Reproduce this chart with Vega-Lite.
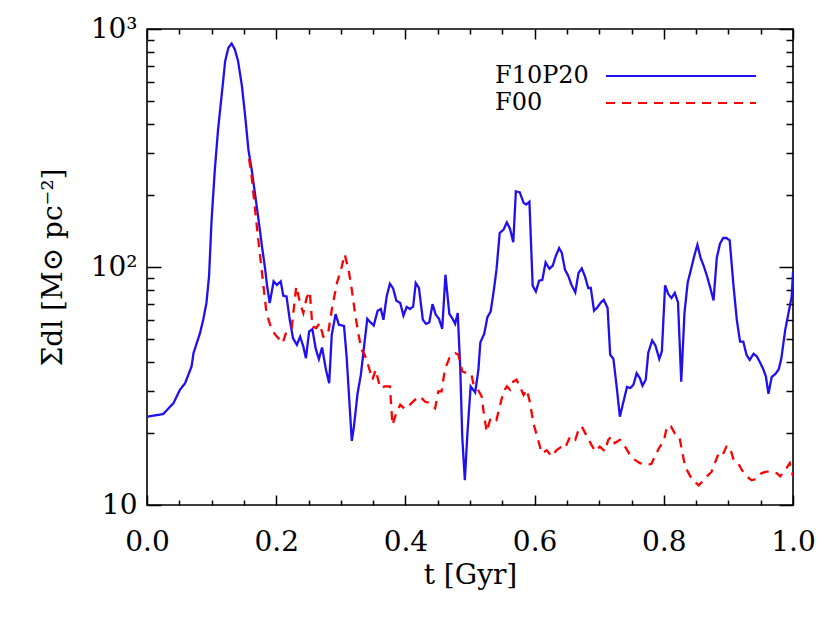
{
  "$schema": "https://vega.github.io/schema/vega-lite/v6.json",
  "width": 646,
  "height": 476,
  "autosize": {"type": "none"},
  "padding": {"left": 147, "top": 29, "right": 37, "bottom": 119},
  "background": "white",
  "config": {
    "view": {"stroke": "#000", "strokeWidth": 1.6},
    "axis": {"domain": false, "grid": false, "labelColor": "#000", "titleColor": "#000", "tickColor": "#000", "tickWidth": 1.5, "labelFont": "DejaVu Serif", "titleFont": "DejaVu Serif", "labelFontSize": 28, "titleFontSize": 28, "titleFontWeight": "normal"}
  },
  "datasets": {
    "series": [
      {"t":0,"v":23.5,"s":"F10P20"},{"t":0.025,"v":24.1,"s":"F10P20"},{"t":0.041,"v":26.8,"s":"F10P20"},{"t":0.051,"v":30.5,"s":"F10P20"},{"t":0.059,"v":32.5,"s":"F10P20"},{"t":0.069,"v":38.2,"s":"F10P20"},{"t":0.072,"v":43.5,"s":"F10P20"},{"t":0.082,"v":52.7,"s":"F10P20"},{"t":0.087,"v":60,"s":"F10P20"},{"t":0.092,"v":70.6,"s":"F10P20"},{"t":0.096,"v":91,"s":"F10P20"},{"t":0.1,"v":158,"s":"F10P20"},{"t":0.105,"v":256,"s":"F10P20"},{"t":0.11,"v":378,"s":"F10P20"},{"t":0.116,"v":540,"s":"F10P20"},{"t":0.121,"v":733,"s":"F10P20"},{"t":0.126,"v":834,"s":"F10P20"},{"t":0.131,"v":869,"s":"F10P20"},{"t":0.136,"v":820,"s":"F10P20"},{"t":0.141,"v":733,"s":"F10P20"},{"t":0.147,"v":575,"s":"F10P20"},{"t":0.152,"v":430,"s":"F10P20"},{"t":0.157,"v":311,"s":"F10P20"},{"t":0.162,"v":257,"s":"F10P20"},{"t":0.167,"v":205,"s":"F10P20"},{"t":0.172,"v":163,"s":"F10P20"},{"t":0.178,"v":122,"s":"F10P20"},{"t":0.183,"v":97.5,"s":"F10P20"},{"t":0.186,"v":82.8,"s":"F10P20"},{"t":0.19,"v":70.6,"s":"F10P20"},{"t":0.196,"v":87,"s":"F10P20"},{"t":0.201,"v":84,"s":"F10P20"},{"t":0.207,"v":87,"s":"F10P20"},{"t":0.211,"v":75.7,"s":"F10P20"},{"t":0.216,"v":75.2,"s":"F10P20"},{"t":0.221,"v":60,"s":"F10P20"},{"t":0.226,"v":50.2,"s":"F10P20"},{"t":0.232,"v":47.1,"s":"F10P20"},{"t":0.237,"v":51,"s":"F10P20"},{"t":0.242,"v":46.3,"s":"F10P20"},{"t":0.246,"v":41.4,"s":"F10P20"},{"t":0.251,"v":53.6,"s":"F10P20"},{"t":0.256,"v":54.8,"s":"F10P20"},{"t":0.261,"v":45.6,"s":"F10P20"},{"t":0.266,"v":41,"s":"F10P20"},{"t":0.271,"v":45.9,"s":"F10P20"},{"t":0.277,"v":37,"s":"F10P20"},{"t":0.282,"v":32.5,"s":"F10P20"},{"t":0.286,"v":51.9,"s":"F10P20"},{"t":0.292,"v":63.4,"s":"F10P20"},{"t":0.297,"v":57.2,"s":"F10P20"},{"t":0.305,"v":56.5,"s":"F10P20"},{"t":0.309,"v":42,"s":"F10P20"},{"t":0.317,"v":18.6,"s":"F10P20"},{"t":0.32,"v":21,"s":"F10P20"},{"t":0.326,"v":29.5,"s":"F10P20"},{"t":0.331,"v":35.2,"s":"F10P20"},{"t":0.336,"v":46.3,"s":"F10P20"},{"t":0.341,"v":60.6,"s":"F10P20"},{"t":0.346,"v":58.5,"s":"F10P20"},{"t":0.351,"v":56.8,"s":"F10P20"},{"t":0.357,"v":65.5,"s":"F10P20"},{"t":0.362,"v":66.6,"s":"F10P20"},{"t":0.366,"v":60,"s":"F10P20"},{"t":0.371,"v":75.2,"s":"F10P20"},{"t":0.376,"v":85.1,"s":"F10P20"},{"t":0.381,"v":81.3,"s":"F10P20"},{"t":0.386,"v":72.1,"s":"F10P20"},{"t":0.392,"v":70.6,"s":"F10P20"},{"t":0.397,"v":62.5,"s":"F10P20"},{"t":0.402,"v":67.9,"s":"F10P20"},{"t":0.407,"v":66.6,"s":"F10P20"},{"t":0.412,"v":68.2,"s":"F10P20"},{"t":0.416,"v":85.7,"s":"F10P20"},{"t":0.421,"v":81.6,"s":"F10P20"},{"t":0.427,"v":60,"s":"F10P20"},{"t":0.432,"v":57.7,"s":"F10P20"},{"t":0.437,"v":58.5,"s":"F10P20"},{"t":0.442,"v":69.8,"s":"F10P20"},{"t":0.447,"v":63,"s":"F10P20"},{"t":0.452,"v":60.6,"s":"F10P20"},{"t":0.457,"v":55,"s":"F10P20"},{"t":0.462,"v":92.8,"s":"F10P20"},{"t":0.468,"v":63.6,"s":"F10P20"},{"t":0.473,"v":60.6,"s":"F10P20"},{"t":0.477,"v":57.7,"s":"F10P20"},{"t":0.481,"v":64,"s":"F10P20"},{"t":0.485,"v":37,"s":"F10P20"},{"t":0.488,"v":19.4,"s":"F10P20"},{"t":0.492,"v":12.7,"s":"F10P20"},{"t":0.496,"v":20,"s":"F10P20"},{"t":0.501,"v":31.5,"s":"F10P20"},{"t":0.508,"v":29.7,"s":"F10P20"},{"t":0.513,"v":37,"s":"F10P20"},{"t":0.516,"v":48.2,"s":"F10P20"},{"t":0.522,"v":52.4,"s":"F10P20"},{"t":0.527,"v":61.6,"s":"F10P20"},{"t":0.532,"v":65,"s":"F10P20"},{"t":0.537,"v":80.3,"s":"F10P20"},{"t":0.541,"v":97.5,"s":"F10P20"},{"t":0.546,"v":139,"s":"F10P20"},{"t":0.552,"v":143.6,"s":"F10P20"},{"t":0.557,"v":154,"s":"F10P20"},{"t":0.562,"v":144.5,"s":"F10P20"},{"t":0.567,"v":127,"s":"F10P20"},{"t":0.571,"v":208,"s":"F10P20"},{"t":0.577,"v":206,"s":"F10P20"},{"t":0.583,"v":186,"s":"F10P20"},{"t":0.587,"v":183,"s":"F10P20"},{"t":0.592,"v":188,"s":"F10P20"},{"t":0.597,"v":83.4,"s":"F10P20"},{"t":0.602,"v":78.9,"s":"F10P20"},{"t":0.607,"v":87.6,"s":"F10P20"},{"t":0.612,"v":88.4,"s":"F10P20"},{"t":0.617,"v":104.5,"s":"F10P20"},{"t":0.623,"v":98.4,"s":"F10P20"},{"t":0.628,"v":101.2,"s":"F10P20"},{"t":0.633,"v":111.6,"s":"F10P20"},{"t":0.638,"v":120,"s":"F10P20"},{"t":0.642,"v":115,"s":"F10P20"},{"t":0.647,"v":97.5,"s":"F10P20"},{"t":0.652,"v":91.9,"s":"F10P20"},{"t":0.657,"v":84.3,"s":"F10P20"},{"t":0.663,"v":78.2,"s":"F10P20"},{"t":0.668,"v":94.4,"s":"F10P20"},{"t":0.673,"v":98.7,"s":"F10P20"},{"t":0.678,"v":91.3,"s":"F10P20"},{"t":0.683,"v":81.6,"s":"F10P20"},{"t":0.687,"v":81.6,"s":"F10P20"},{"t":0.692,"v":65.5,"s":"F10P20"},{"t":0.697,"v":67.6,"s":"F10P20"},{"t":0.702,"v":70.6,"s":"F10P20"},{"t":0.707,"v":72.8,"s":"F10P20"},{"t":0.713,"v":67.3,"s":"F10P20"},{"t":0.717,"v":42.8,"s":"F10P20"},{"t":0.722,"v":41.1,"s":"F10P20"},{"t":0.727,"v":31.5,"s":"F10P20"},{"t":0.732,"v":23.5,"s":"F10P20"},{"t":0.737,"v":26.8,"s":"F10P20"},{"t":0.743,"v":31.3,"s":"F10P20"},{"t":0.748,"v":31,"s":"F10P20"},{"t":0.753,"v":32,"s":"F10P20"},{"t":0.758,"v":35.8,"s":"F10P20"},{"t":0.763,"v":34.1,"s":"F10P20"},{"t":0.767,"v":31.7,"s":"F10P20"},{"t":0.772,"v":33.6,"s":"F10P20"},{"t":0.776,"v":43.7,"s":"F10P20"},{"t":0.782,"v":49.1,"s":"F10P20"},{"t":0.787,"v":46.8,"s":"F10P20"},{"t":0.793,"v":41.1,"s":"F10P20"},{"t":0.797,"v":44.2,"s":"F10P20"},{"t":0.802,"v":83.7,"s":"F10P20"},{"t":0.807,"v":76.9,"s":"F10P20"},{"t":0.812,"v":74.1,"s":"F10P20"},{"t":0.817,"v":77.8,"s":"F10P20"},{"t":0.822,"v":71,"s":"F10P20"},{"t":0.827,"v":33,"s":"F10P20"},{"t":0.832,"v":64,"s":"F10P20"},{"t":0.837,"v":86.1,"s":"F10P20"},{"t":0.842,"v":97.5,"s":"F10P20"},{"t":0.847,"v":110.9,"s":"F10P20"},{"t":0.852,"v":124,"s":"F10P20"},{"t":0.857,"v":109.1,"s":"F10P20"},{"t":0.862,"v":100.7,"s":"F10P20"},{"t":0.867,"v":91.3,"s":"F10P20"},{"t":0.872,"v":81.6,"s":"F10P20"},{"t":0.877,"v":72.4,"s":"F10P20"},{"t":0.882,"v":109.1,"s":"F10P20"},{"t":0.887,"v":125.4,"s":"F10P20"},{"t":0.892,"v":132.4,"s":"F10P20"},{"t":0.897,"v":132.4,"s":"F10P20"},{"t":0.902,"v":129.4,"s":"F10P20"},{"t":0.908,"v":82.8,"s":"F10P20"},{"t":0.913,"v":60,"s":"F10P20"},{"t":0.918,"v":48.6,"s":"F10P20"},{"t":0.923,"v":48.6,"s":"F10P20"},{"t":0.928,"v":42.8,"s":"F10P20"},{"t":0.933,"v":40.7,"s":"F10P20"},{"t":0.939,"v":43.2,"s":"F10P20"},{"t":0.944,"v":42.1,"s":"F10P20"},{"t":0.949,"v":39.7,"s":"F10P20"},{"t":0.954,"v":37.2,"s":"F10P20"},{"t":0.958,"v":34.7,"s":"F10P20"},{"t":0.962,"v":29.3,"s":"F10P20"},{"t":0.967,"v":34.5,"s":"F10P20"},{"t":0.973,"v":35.6,"s":"F10P20"},{"t":0.978,"v":37.2,"s":"F10P20"},{"t":0.982,"v":41.4,"s":"F10P20"},{"t":0.988,"v":54.5,"s":"F10P20"},{"t":0.993,"v":64,"s":"F10P20"},{"t":0.998,"v":75.2,"s":"F10P20"},{"t":1.0,"v":95,"s":"F10P20"},
      {"t":0.158,"v":285,"s":"F00"},{"t":0.162,"v":240,"s":"F00"},{"t":0.17,"v":148,"s":"F00"},{"t":0.178,"v":94.4,"s":"F00"},{"t":0.185,"v":64,"s":"F00"},{"t":0.193,"v":54.5,"s":"F00"},{"t":0.201,"v":51,"s":"F00"},{"t":0.21,"v":47.9,"s":"F00"},{"t":0.216,"v":53.6,"s":"F00"},{"t":0.224,"v":55.4,"s":"F00"},{"t":0.231,"v":82.8,"s":"F00"},{"t":0.237,"v":70.6,"s":"F00"},{"t":0.242,"v":64,"s":"F00"},{"t":0.247,"v":74.1,"s":"F00"},{"t":0.252,"v":78.9,"s":"F00"},{"t":0.256,"v":56.2,"s":"F00"},{"t":0.262,"v":55.4,"s":"F00"},{"t":0.267,"v":58.1,"s":"F00"},{"t":0.273,"v":51,"s":"F00"},{"t":0.28,"v":51.9,"s":"F00"},{"t":0.286,"v":66.1,"s":"F00"},{"t":0.294,"v":85.7,"s":"F00"},{"t":0.301,"v":99,"s":"F00"},{"t":0.306,"v":113,"s":"F00"},{"t":0.312,"v":97.5,"s":"F00"},{"t":0.317,"v":80.3,"s":"F00"},{"t":0.322,"v":64,"s":"F00"},{"t":0.327,"v":52.8,"s":"F00"},{"t":0.332,"v":44.9,"s":"F00"},{"t":0.337,"v":42.8,"s":"F00"},{"t":0.343,"v":38.2,"s":"F00"},{"t":0.349,"v":33.6,"s":"F00"},{"t":0.354,"v":37,"s":"F00"},{"t":0.361,"v":31,"s":"F00"},{"t":0.368,"v":31.5,"s":"F00"},{"t":0.376,"v":31.5,"s":"F00"},{"t":0.38,"v":21.7,"s":"F00"},{"t":0.385,"v":23.9,"s":"F00"},{"t":0.392,"v":26.4,"s":"F00"},{"t":0.399,"v":25.3,"s":"F00"},{"t":0.407,"v":26.4,"s":"F00"},{"t":0.415,"v":27.7,"s":"F00"},{"t":0.423,"v":28.6,"s":"F00"},{"t":0.43,"v":27.2,"s":"F00"},{"t":0.438,"v":26.8,"s":"F00"},{"t":0.446,"v":25.5,"s":"F00"},{"t":0.451,"v":30,"s":"F00"},{"t":0.456,"v":30,"s":"F00"},{"t":0.461,"v":37,"s":"F00"},{"t":0.468,"v":41.4,"s":"F00"},{"t":0.477,"v":43.5,"s":"F00"},{"t":0.482,"v":42.8,"s":"F00"},{"t":0.488,"v":36.4,"s":"F00"},{"t":0.495,"v":35.8,"s":"F00"},{"t":0.502,"v":35.6,"s":"F00"},{"t":0.505,"v":32.5,"s":"F00"},{"t":0.511,"v":31,"s":"F00"},{"t":0.518,"v":28.6,"s":"F00"},{"t":0.522,"v":23.5,"s":"F00"},{"t":0.526,"v":20.3,"s":"F00"},{"t":0.531,"v":22.8,"s":"F00"},{"t":0.536,"v":23.5,"s":"F00"},{"t":0.541,"v":22.8,"s":"F00"},{"t":0.546,"v":25.9,"s":"F00"},{"t":0.552,"v":30,"s":"F00"},{"t":0.557,"v":31.5,"s":"F00"},{"t":0.562,"v":30.5,"s":"F00"},{"t":0.567,"v":33,"s":"F00"},{"t":0.572,"v":33.6,"s":"F00"},{"t":0.577,"v":31.5,"s":"F00"},{"t":0.583,"v":29,"s":"F00"},{"t":0.588,"v":30.5,"s":"F00"},{"t":0.593,"v":26.8,"s":"F00"},{"t":0.598,"v":22.1,"s":"F00"},{"t":0.604,"v":19.4,"s":"F00"},{"t":0.611,"v":16.5,"s":"F00"},{"t":0.619,"v":17,"s":"F00"},{"t":0.626,"v":16,"s":"F00"},{"t":0.634,"v":17,"s":"F00"},{"t":0.642,"v":17.6,"s":"F00"},{"t":0.647,"v":17.3,"s":"F00"},{"t":0.655,"v":19.4,"s":"F00"},{"t":0.663,"v":18.8,"s":"F00"},{"t":0.668,"v":20.7,"s":"F00"},{"t":0.673,"v":21.4,"s":"F00"},{"t":0.681,"v":19.4,"s":"F00"},{"t":0.688,"v":17.9,"s":"F00"},{"t":0.694,"v":16.8,"s":"F00"},{"t":0.701,"v":17.6,"s":"F00"},{"t":0.709,"v":16.8,"s":"F00"},{"t":0.714,"v":18.8,"s":"F00"},{"t":0.719,"v":19.4,"s":"F00"},{"t":0.724,"v":18.2,"s":"F00"},{"t":0.732,"v":18.8,"s":"F00"},{"t":0.74,"v":17.6,"s":"F00"},{"t":0.748,"v":16.2,"s":"F00"},{"t":0.755,"v":15.5,"s":"F00"},{"t":0.763,"v":15,"s":"F00"},{"t":0.773,"v":14.7,"s":"F00"},{"t":0.781,"v":14.9,"s":"F00"},{"t":0.787,"v":16.2,"s":"F00"},{"t":0.794,"v":17.6,"s":"F00"},{"t":0.8,"v":18.5,"s":"F00"},{"t":0.805,"v":21.5,"s":"F00"},{"t":0.811,"v":21.4,"s":"F00"},{"t":0.817,"v":20,"s":"F00"},{"t":0.824,"v":19.4,"s":"F00"},{"t":0.828,"v":17,"s":"F00"},{"t":0.833,"v":14.5,"s":"F00"},{"t":0.841,"v":13.2,"s":"F00"},{"t":0.848,"v":12.5,"s":"F00"},{"t":0.854,"v":12.1,"s":"F00"},{"t":0.859,"v":12.5,"s":"F00"},{"t":0.867,"v":13.2,"s":"F00"},{"t":0.874,"v":13.8,"s":"F00"},{"t":0.879,"v":15,"s":"F00"},{"t":0.885,"v":16.5,"s":"F00"},{"t":0.891,"v":16.2,"s":"F00"},{"t":0.897,"v":17.6,"s":"F00"},{"t":0.902,"v":17.6,"s":"F00"},{"t":0.908,"v":15.5,"s":"F00"},{"t":0.915,"v":15,"s":"F00"},{"t":0.921,"v":14,"s":"F00"},{"t":0.928,"v":13.2,"s":"F00"},{"t":0.936,"v":12.7,"s":"F00"},{"t":0.944,"v":12.9,"s":"F00"},{"t":0.951,"v":13.6,"s":"F00"},{"t":0.959,"v":13.8,"s":"F00"},{"t":0.967,"v":13.8,"s":"F00"},{"t":0.975,"v":13.6,"s":"F00"},{"t":0.98,"v":13.2,"s":"F00"},{"t":0.988,"v":14,"s":"F00"},{"t":0.995,"v":15,"s":"F00"},{"t":1.0,"v":13.2,"s":"F00"}
    ]
  },
  "data": {"name": "series"},
  "resolve": {"axis": {"x": "independent", "y": "independent"}},
  "layer": [
    {
      "mark": {"type": "line", "strokeWidth": 2.3, "clip": true},
      "encoding": {
        "x": {"field": "t", "type": "quantitative", "scale": {"domain": [0, 1], "nice": false, "zero": false},
              "axis": {"orient": "bottom", "values": [0, 0.2, 0.4, 0.6, 0.8, 1.0], "format": ".1f", "ticks": false, "tickSize": 0, "labelPadding": 23, "labelFlush": false, "title": "t [Gyr]", "titleY": 56}},
        "y": {"field": "v", "type": "quantitative", "scale": {"type": "log", "domain": [10, 1000], "nice": false, "zero": false},
              "axis": {"orient": "left", "values": [10, 100, 1000], "labelExpr": "datum.value == 1000 ? '10³' : datum.value == 100 ? '10²' : '10'", "ticks": false, "tickSize": 0, "labelPadding": 10, "labelFlush": false, "title": "Σdl [M⊙ pc⁻²]", "titleX": -80, "titleY": 238}},
        "color": {"field": "s", "type": "nominal", "scale": {"domain": ["F10P20", "F00"], "range": ["#2010f0", "#ff0000"]},
                  "legend": {"orient": "none", "legendX": 522, "legendY": 35, "title": null, "symbolType": "M-10,0H10", "symbolSize": 225, "symbolStrokeWidth": 2, "symbolFillColor": "transparent", "labelFont": "DejaVu Serif", "labelFontSize": 24, "labelColor": "#000", "labelAlign": "left", "labelOffset": -198, "labelLimit": 0, "rowPadding": 3}},
        "strokeDash": {"field": "s", "type": "nominal", "scale": {"domain": ["F10P20", "F00"], "range": [[1, 0], [9, 7]]}}
      }
    },
    {
      "mark": {"type": "point", "opacity": 0},
      "encoding": {
        "x": {"field": "t", "type": "quantitative", "axis": {"orient": "bottom", "values": [0, 0.2, 0.4, 0.6, 0.8, 1.0], "labels": false, "tickSize": -10, "title": null}},
        "y": {"field": "v", "type": "quantitative", "axis": {"orient": "left", "values": [10, 100, 1000], "labels": false, "tickSize": -14, "title": null}}
      }
    },
    {
      "mark": {"type": "point", "opacity": 0},
      "encoding": {
        "x": {"field": "t", "type": "quantitative", "axis": {"orient": "bottom", "values": [0.05, 0.1, 0.15, 0.25, 0.3, 0.35, 0.45, 0.5, 0.55, 0.65, 0.7, 0.75, 0.85, 0.9, 0.95], "labels": false, "tickSize": -5, "title": null}},
        "y": {"field": "v", "type": "quantitative", "axis": {"orient": "left", "values": [20, 30, 40, 50, 60, 70, 80, 90, 200, 300, 400, 500, 600, 700, 800, 900], "labels": false, "tickSize": -7, "title": null}}
      }
    },
    {
      "mark": {"type": "point", "opacity": 0},
      "encoding": {
        "x": {"field": "t", "type": "quantitative", "axis": {"orient": "top", "values": [0, 0.2, 0.4, 0.6, 0.8, 1.0], "labels": false, "tickSize": -10, "title": null}},
        "y": {"field": "v", "type": "quantitative", "axis": {"orient": "right", "values": [10, 100, 1000], "labels": false, "tickSize": -14, "title": null}}
      }
    },
    {
      "mark": {"type": "point", "opacity": 0},
      "encoding": {
        "x": {"field": "t", "type": "quantitative", "axis": {"orient": "top", "values": [0.05, 0.1, 0.15, 0.25, 0.3, 0.35, 0.45, 0.5, 0.55, 0.65, 0.7, 0.75, 0.85, 0.9, 0.95], "labels": false, "tickSize": -5, "title": null}},
        "y": {"field": "v", "type": "quantitative", "axis": {"orient": "right", "values": [20, 30, 40, 50, 60, 70, 80, 90, 200, 300, 400, 500, 600, 700, 800, 900], "labels": false, "tickSize": -7, "title": null}}
      }
    }
  ]
}
